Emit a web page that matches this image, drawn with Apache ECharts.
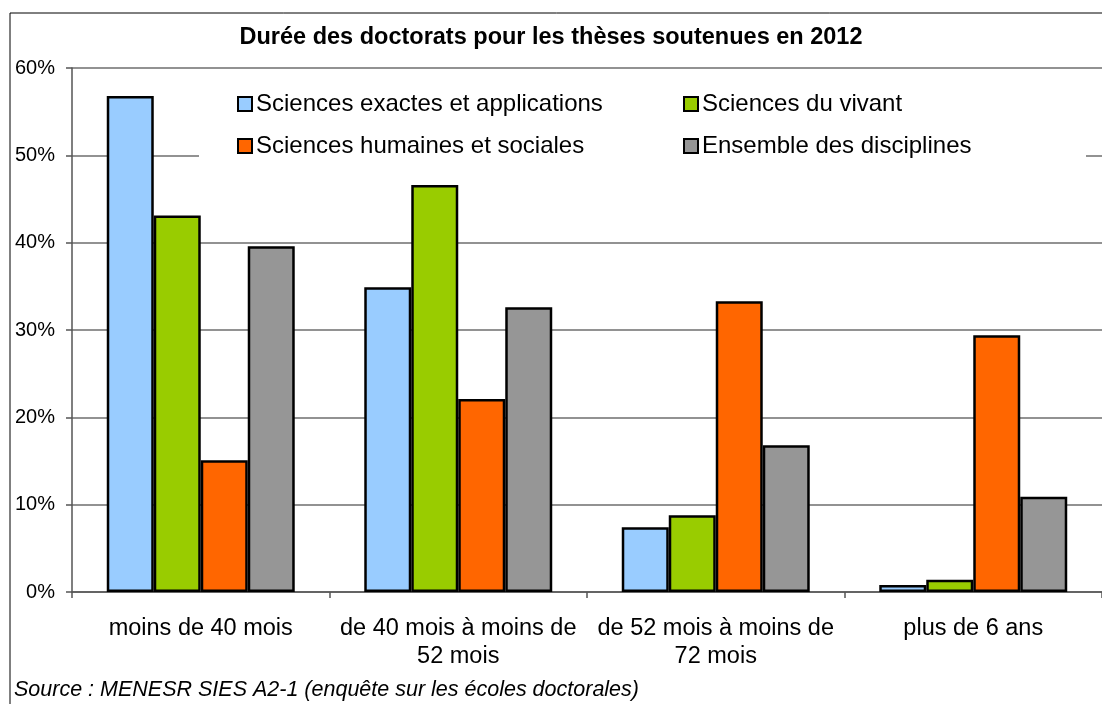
<!DOCTYPE html>
<html>
<head>
<meta charset="utf-8">
<script src="https://cdn.jsdelivr.net/npm/echarts@6/dist/echarts.min.js"></script>
<style>
html,body{margin:0;padding:0;background:#fff;}
#chart{width:1102px;height:704px;}
</style>
</head>
<body>
<div id="chart"></div>
<script>
const categories = ["moins de 40 mois", "de 40 mois à moins de\n52 mois", "de 52 mois à moins de\n72 mois", "plus de 6 ans"];
const seriesNames = ["Sciences exactes et applications", "Sciences du vivant", "Sciences humaines et sociales", "Ensemble des disciplines"];
const exactes = [56.8, 34.9, 7.4, 0.8];
const vivant = [43.1, 46.6, 8.8, 1.4];
const humaines = [15.1, 22.1, 33.3, 29.4];
const ensemble = [39.6, 32.6, 16.8, 10.9];
const yTicks = [0, 10, 20, 30, 40, 50, 60];
const colors = ["#99CCFF", "#99CC00", "#FF6600", "#969696"];
const values = [exactes, vivant, humaines, ensemble];

const font = "'Liberation Sans', Arial, sans-serif";
const chart = echarts.init(document.getElementById('chart'), null, {renderer: 'canvas'});

const legendPos = [
  {left: 237, top: 92},
  {left: 683, top: 92},
  {left: 237, top: 134},
  {left: 683, top: 134}
];

const option = {
  animation: false,
  backgroundColor: '#fff',
  title: {
    text: 'Durée des doctorats pour les thèses soutenues en 2012',
    left: 'center',
    top: 26,
    padding: 0,
    textStyle: {fontFamily: font, fontSize: 23.5, fontWeight: 'bold', color: '#000'}
  },
  legend: seriesNames.map((n, i) => ({
    data: [n],
    left: legendPos[i].left,
    top: legendPos[i].top,
    itemWidth: 14,
    itemHeight: 14,
    itemGap: 6,
    icon: 'rect',
    selectedMode: false,
    padding: 0,
    textStyle: {fontFamily: font, fontSize: 24, lineHeight: 24, color: '#000', padding: [0, 0, 0, -1]}
  })),
  graphic: [
    {type: 'rect', z: 1, shape: {x: 199, y: 82, width: 887, height: 88}, style: {fill: '#fff'}},
    {type: 'rect', z: 0, silent: true, shape: {x: 10, y: 13, width: 1120, height: 720}, style: {fill: 'none', stroke: '#000', lineWidth: 1}},
    {type: 'text', left: 14, top: 679, style: {text: 'Source : MENESR SIES A2-1 (enquête sur les écoles doctorales)', fontFamily: font, fontSize: 21.5, fontStyle: 'italic', fill: '#000'}}
  ],
  grid: {left: 72, right: -2, top: 68, height: 524, containLabel: false},
  xAxis: {
    type: 'category',
    data: categories,
    axisLine: {lineStyle: {color: '#555', width: 1.5}},
    axisTick: {show: true, length: 6, lineStyle: {color: '#555', width: 1.5}},
    axisLabel: {fontFamily: font, fontSize: 23.5, color: '#000', margin: 23, lineHeight: 28, interval: 0}
  },
  yAxis: {
    type: 'value',
    min: 0, max: 60, interval: 10,
    axisLine: {show: true, lineStyle: {color: '#555', width: 1.5}},
    axisTick: {show: true, length: 6, lineStyle: {color: '#555', width: 1.5}},
    axisLabel: {fontFamily: font, fontSize: 20, color: '#000', margin: 17, formatter: v => yTicks.includes(v) ? v + '%' : ''},
    splitLine: {lineStyle: {color: '#6e6e6e', width: 1.5}}
  },
  series: seriesNames.map((n, i) => ({
    name: n,
    type: 'bar',
    data: values[i],
    barGap: '0%',
    barCategoryGap: '27%',
    itemStyle: {color: colors[i], borderColor: '#000', borderWidth: 2.5}
  }))
};
chart.setOption(option);
</script>
</body>
</html>
